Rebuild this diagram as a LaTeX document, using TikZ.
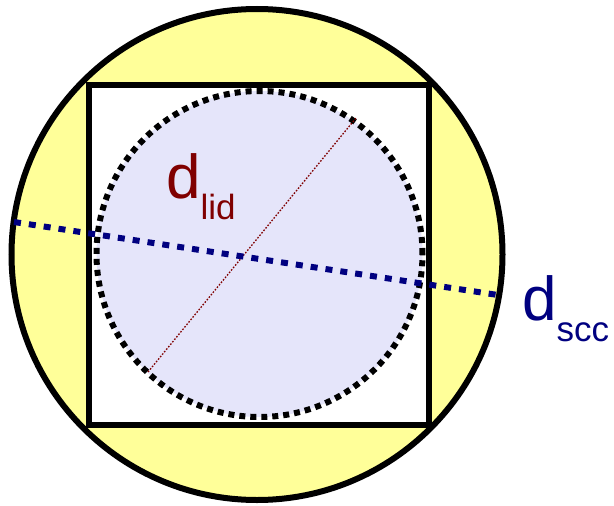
\documentclass[tikz,border=0pt]{standalone}
\usepackage{fontspec}
\setmainfont{Liberation Sans}
\definecolor{lidred}{RGB}{128,0,0}
\definecolor{sccblue}{RGB}{0,0,128}
\definecolor{shellfill}{RGB}{255,255,153}
\definecolor{lidfill}{RGB}{229,229,250}
\tikzset{
  diam/.style={font=\fontsize{62}{62}\selectfont,inner sep=0pt,anchor=base west},
}
\newcommand{\subtxt}[1]{\raisebox{-21pt}{\fontsize{35}{35}\selectfont #1}}
\begin{document}
\begin{tikzpicture}[x=1pt,y=-1pt]
\useasboundingbox (0,0) rectangle (614,506);
\coordinate (O) at (257,254.5);
\coordinate (C) at (259.5,254);
\coordinate (S1) at (89,85);
\coordinate (S2) at (428.5,425);
\coordinate (L1) at (148,372);
\coordinate (L2) at (356,118);
\coordinate (P1) at (14,222);
\coordinate (P2) at (498,295);
\draw[line width=6pt,fill=shellfill] (O) circle (245.5pt);
\draw[line width=6pt,fill=white] (S1) rectangle (S2);
\draw[line width=6pt,dash pattern=on 6pt off 5pt,fill=lidfill] (C) circle (163pt);
\draw[lidred,line width=1.3pt,dash pattern=on 1.6pt off 1.6pt] (L1)--(L2);
\draw[sccblue,line width=6pt,dash pattern=on 7pt off 8pt] (P1)--(P2);
\node[diam,text=lidred] (dlid) at (166,198) {d\subtxt{lid}};
\node[diam,text=sccblue] (dscc) at (522,320) {d\subtxt{scc}};
\end{tikzpicture}
\end{document}
